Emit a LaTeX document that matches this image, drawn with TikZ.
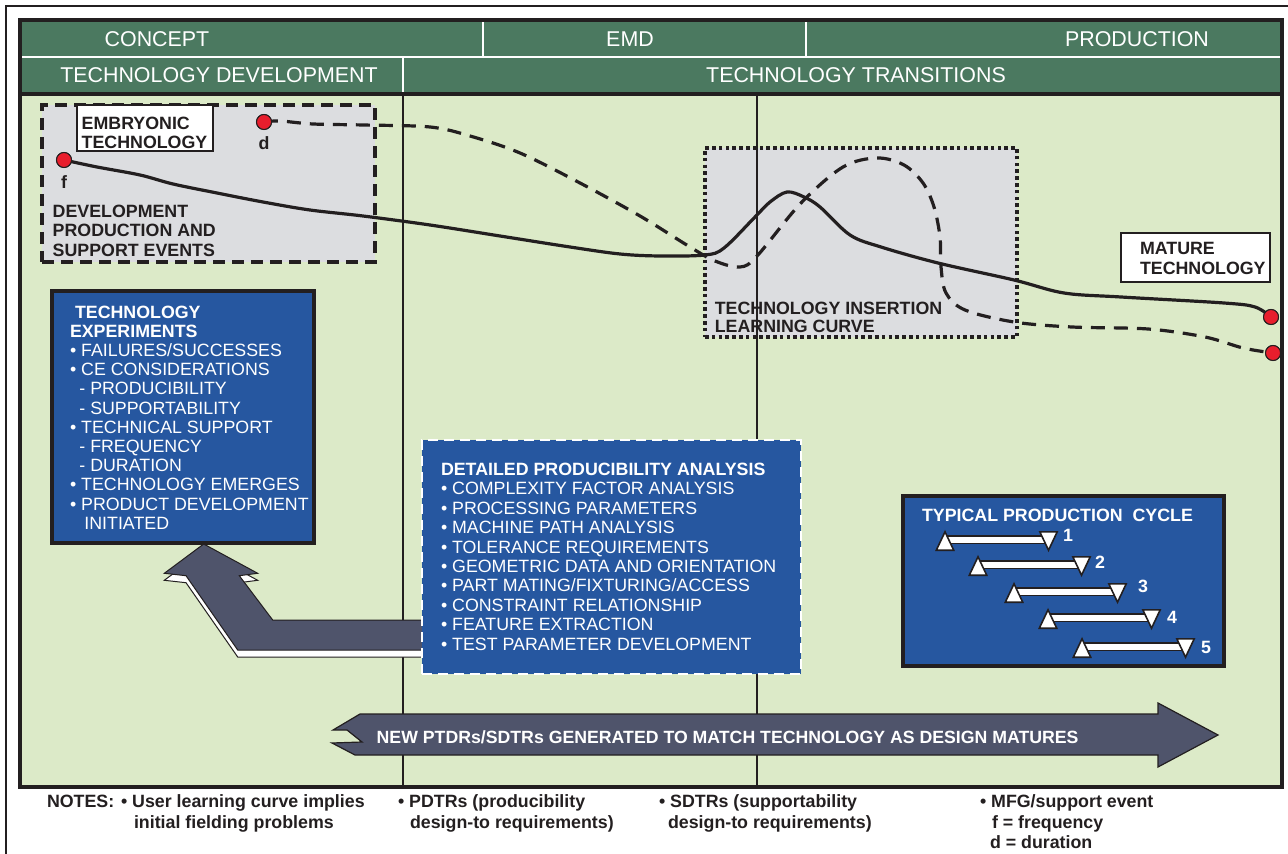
\documentclass[tikz,border=0pt]{standalone}
\usepackage{fontspec}
\setmainfont{Liberation Sans}
\usetikzlibrary{positioning}

\definecolor{hdrgreen}{RGB}{75,121,96}
\definecolor{palegreen}{RGB}{220,234,200}
\definecolor{boxblue}{RGB}{38,87,160}
\definecolor{panelgray}{RGB}{220,221,224}
\definecolor{slate}{RGB}{79,84,107}
\definecolor{dotred}{RGB}{232,30,45}
\definecolor{ink}{RGB}{35,31,32}

\begin{document}
\begin{tikzpicture}[
  x=0.5pt, y=-0.5pt,
  every node/.style={inner sep=0pt, outer sep=0pt},
  hdr/.style={font=\fontsize{10.7}{12}\selectfont, text=white},
  txt/.style={align=left, anchor=north west, font=\fontsize{8.9}{9.6}\selectfont},
  darktxt/.style={txt, text=ink, font=\fontsize{8.9}{9.6}\selectfont\bfseries},
  bluetxt/.style={txt, text=white},
  panel/.style={anchor=north west, fill=panelgray, draw=ink},
  tagbox/.style={anchor=north west, draw=ink, line width=0.6pt, fill=white},
  bluebox/.style={anchor=north west, draw=ink, line width=1.6pt, fill=boxblue},
  reddot/.style={circle, draw=ink, line width=0.5pt, fill=dotred, minimum size=7.5pt},
  dotlbl/.style={font=\fontsize{8.9}{9.6}\selectfont\bfseries, text=ink},
  freqline/.style={line width=1.6pt, draw=ink},
  durline/.style={freqline, dash pattern=on 7pt off 4.5pt},
  gridline/.style={draw=ink, line width=0.6pt},
  barline/.style={draw=ink, line width=0.8pt, fill=white},
  cyclenum/.style={font=\fontsize{8.9}{9.6}\selectfont\bfseries, text=white}
]
  \useasboundingbox (0,0) rectangle (1288,854);
  \draw[ink, line width=1pt] (6,854) -- (6,6) -- (1288,6);

  % phase header
  \fill[palegreen] (20,20) rectangle (1282,787);
  \fill[hdrgreen] (20,20) rectangle (1282,94);
  \draw[white, line width=0.8pt] (20,57) -- (1282,57) (483,20) -- (483,57) (806,20) -- (806,57) (403,57) -- (403,94);
  \node[hdr] (concept) at (157,39) {CONCEPT};
  \node[hdr] (emd) at (630,39) {EMD};
  \node[hdr] (production) at (1137,39) {PRODUCTION};
  \node[hdr] (techdev) at (219,75) {TECHNOLOGY DEVELOPMENT};
  \node[hdr] (techtrans) at (856,75) {TECHNOLOGY TRANSITIONS};

  % gray panels
  \node[panel, line width=2pt, dash pattern=on 6pt off 3.5pt, minimum width=166.5pt, minimum height=78.5pt] (devbox) at (42,105) {};
  \node[panel, line width=1.8pt, dash pattern=on 1.8pt off 1.6pt, minimum width=156pt, minimum height=94.5pt] (insbox) at (705,148) {};
  \node[darktxt, font=\fontsize{8.9}{9.75}\selectfont\bfseries] (devtxt) at (52.7,205) {DEVELOPMENT\\PRODUCTION AND\\SUPPORT EVENTS};
  \node[darktxt, font=\fontsize{8.9}{9.2}\selectfont\bfseries] (instxt) at (714.8,301.7) {TECHNOLOGY INSERTION\\LEARNING CURVE};

  \draw[gridline] (403,94) -- (403,787) (757,94) -- (757,787);

  % events and curves
  \node[reddot] (fdot) at (64,160) {};
  \node[reddot] (ddot) at (264,122) {};
  \node[reddot] (fend) at (1271,317) {};
  \node[reddot] (dend) at (1273,353) {};
  \draw[freqline] plot[smooth, tension=0.55] coordinates {(fdot.center) (97,167) (140,175) (173,184) (217,193) (263,202) (310,210) (363,216) (430,225) (500,236) (570,247) (620,254) (660,256) (705,255) (724,248) (755,217) (770,202) (787,192) (804,197) (820,207) (850,235) (881,247) (938,263) (1014,280) (1064,293) (1121,297) (1224,303) (1255,307) (fend.center)};
  \draw[durline] plot[smooth, tension=0.55] coordinates {(ddot.center) (280,121) (313,124) (363,125) (430,127) (470,136) (520,153) (580,183) (640,216) (690,247) (715,261) (740,267) (757,256) (801,203) (843,167) (877,158) (904,165) (923,183) (934,207) (940,237) (941,267) (946,293) (965,310) (1014,322) (1072,327) (1148,329) (1205,337) (1243,348) (dend.center)};
  \node[reddot] at (fdot) {};
  \node[reddot] at (ddot) {};
  \node[reddot] at (fend) {};
  \node[reddot] at (dend) {};
  \node[dotlbl, below=4pt of fdot] (flbl) {f};
  \node[dotlbl, below=3.5pt of ddot] (dlbl) {d};

  \node[tagbox, minimum width=68pt, minimum height=23pt] (embbox) at (77,105) {};
  \node[darktxt] (embtxt) at (81.7,116.7) {EMBRYONIC\\TECHNOLOGY};
  \node[tagbox, minimum width=74.5pt, minimum height=24.5pt] (matbox) at (1121,233) {};
  \node[darktxt, font=\fontsize{8.9}{9.65}\selectfont\bfseries] (mattxt) at (1140,242.7) {MATURE\\TECHNOLOGY};

  % bent arrow with its white shadow
  \foreach \dy/\col in {7/white,0/slate}
    \filldraw[fill=\col, draw=ink, line width=0.5pt, shift={(1,\dy)}] (202.7,544) -- (256.7,573.3) -- (238.3,575.7) -- (271.7,620) -- (421.7,620) -- (421.7,650) -- (236.7,650) -- (185,575.7) -- (163.3,573.3) -- cycle;

  % blue boxes
  \node[bluebox, minimum width=131pt, minimum height=126pt] (expbox) at (52,291) {};
  \node[bluetxt] (exptxt) at (70,305.7) {\textbf{\hspace*{2.5pt}TECHNOLOGY}\\
    \textbf{EXPERIMENTS}\\
    • FAILURES/SUCCESSES\\
    • CE CONSIDERATIONS\\
    \hspace*{4.7pt}- PRODUCIBILITY\\
    \hspace*{4.7pt}- SUPPORTABILITY\\
    • TECHNICAL SUPPORT\\
    \hspace*{4.7pt}- FREQUENCY\\
    \hspace*{4.7pt}- DURATION\\
    • TECHNOLOGY EMERGES\\
    • PRODUCT DEVELOPMENT\\
    \hspace*{7.2pt}INITIATED};

  \node[anchor=north west, fill=boxblue, draw=white, line width=1.3pt, dash pattern=on 5pt off 3pt, minimum width=189.5pt, minimum height=117pt] (dpabox) at (422,440) {};
  \node[bluetxt, font=\fontsize{8.9}{9.7}\selectfont] (dpatxt) at (441,463) {\textbf{DETAILED PRODUCIBILITY ANALYSIS}\\
    • COMPLEXITY FACTOR ANALYSIS\\
    • PROCESSING PARAMETERS\\
    • MACHINE PATH ANALYSIS\\
    • TOLERANCE REQUIREMENTS\\
    • GEOMETRIC DATA AND ORIENTATION\\
    • PART MATING/FIXTURING/ACCESS\\
    • CONSTRAINT RELATIONSHIP\\
    • FEATURE EXTRACTION\\
    • TEST PARAMETER DEVELOPMENT};

  \node[bluebox, minimum width=160.5pt, minimum height=85pt] (cycbox) at (903,496) {};
  \node[bluetxt, font=\fontsize{8.9}{9.6}\selectfont\bfseries] (cyctxt) at (922,509) {TYPICAL PRODUCTION\ \ CYCLE};
  \foreach \i/\c/\xl/\lx/\ly in {1/541/945/1068/535, 2/566/978/1100/562, 3/593/1014/1143/586, 4/619/1048/1172/617, 5/648/1082/1206/647}{
    \pgfmathsetmacro\xr{\xl+103.5}
    \draw[barline] ({\xl},{\c-5}) rectangle ({\xr},{\c+2.3});
    \draw[barline] ({\xl},{\c-9.2}) -- ({\xl+8.7},{\c+9.2}) -- ({\xl-8.7},{\c+9.2}) -- cycle;
    \draw[barline] ({\xr},{\c+9.2}) -- ({\xr+8.7},{\c-9.2}) -- ({\xr-8.7},{\c-9.2}) -- cycle;
    \node[cyclenum] (num\i) at (\lx,\ly) {\i};
  }

  % maturing arrow
  \filldraw[fill=slate, draw=ink, line width=0.6pt] (360,714) -- (1158,714) -- (1158,703) -- (1218,735) -- (1158,767) -- (1158,755) -- (355,755) -- (332,743) -- (362,742) -- (347,730) -- (333,730) -- cycle;
  \node[anchor=base, text=white, font=\fontsize{8.85}{9.6}\selectfont\bfseries] (newtxt) at (727.6,743.3) {NEW PTDRs/SDTRs GENERATED TO MATCH TECHNOLOGY AS DESIGN MATURES};

  \draw[ink, line width=1.8pt] (20,20) rectangle (1282,787) (20,94) -- (1282,94);

  % notes
  \tikzset{notetxt/.style={darktxt, font=\fontsize{8.9}{10.25}\selectfont\bfseries}}
  \node[notetxt] (notes) at (47,794.7) {NOTES:};
  \node[notetxt] (note1) at (121,794.7) {• User learning curve implies\\\hspace*{6.5pt}initial fielding problems};
  \node[notetxt] (note2) at (398,794.7) {• PDTRs (producibility\\\hspace*{6pt}design-to requirements)};
  \node[notetxt] (note3) at (659,794.7) {• SDTRs (supportability\\\hspace*{4.5pt}design-to requirements)};
  \node[notetxt] (note4) at (980,794.7) {• MFG/support event\\\hspace*{6pt}f = frequency\\\hspace*{5pt}d = duration};
\end{tikzpicture}
\end{document}
